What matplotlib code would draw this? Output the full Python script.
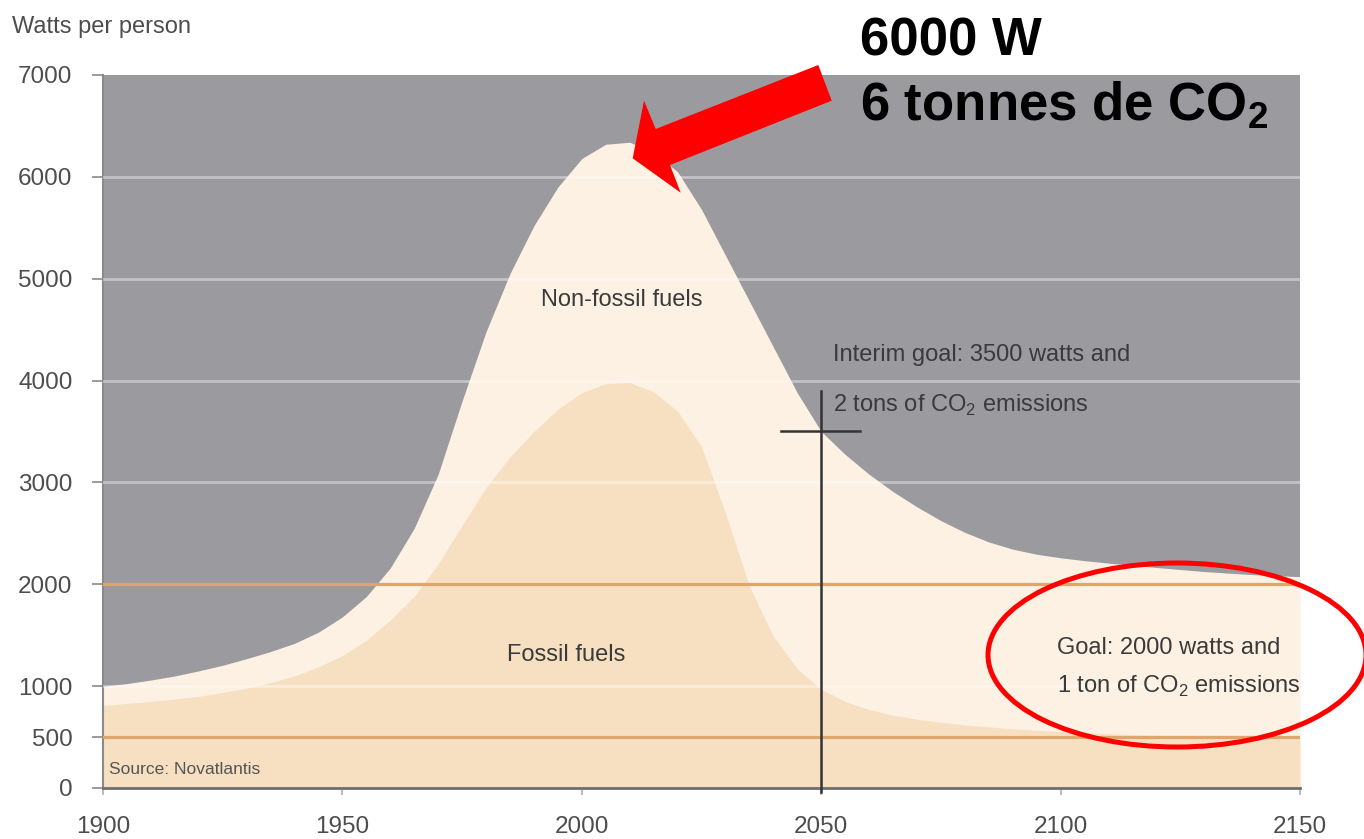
import matplotlib
matplotlib.use("Agg")
import matplotlib.pyplot as plt
from matplotlib.patches import Polygon, Ellipse

# ---- data (watts per person) ----
years = [1900, 1905, 1910, 1915, 1920, 1925, 1930, 1935, 1940, 1945, 1950, 1955,
         1960, 1965, 1970, 1975, 1980, 1985, 1990, 1995, 2000, 2005, 2010, 2015,
         2020, 2025, 2030, 2035, 2040, 2045, 2050, 2055, 2060, 2065, 2070, 2075,
         2080, 2085, 2090, 2095, 2100, 2105, 2110, 2120, 2130, 2140, 2150]
total_watts = [1000, 1025, 1060, 1100, 1150, 1205, 1270, 1340, 1420, 1530, 1680, 1880,
               2160, 2550, 3080, 3800, 4480, 5050, 5520, 5900, 6180, 6320, 6340, 6240,
               6050, 5680, 5230, 4780, 4330, 3880, 3500, 3275, 3080, 2910, 2760, 2625,
               2510, 2415, 2345, 2295, 2260, 2232, 2208, 2165, 2125, 2095, 2075]
fossil_watts = [810, 830, 850, 875, 900, 938, 980, 1035, 1100, 1190, 1300, 1450,
                1650, 1880, 2200, 2580, 2950, 3250, 3500, 3720, 3880, 3970, 3980, 3890,
                3700, 3350, 2700, 1980, 1490, 1170, 970, 850, 770, 715, 675, 645,
                620, 600, 582, 566, 553, 542, 532, 516, 505, 497, 490]

goal_lines = [2000, 500]
interim_year = 2050
interim_watts = 3500
y_ticks = [0, 500, 1000, 2000, 3000, 4000, 5000, 6000, 7000]
x_ticks = [1900, 1950, 2000, 2050, 2100, 2150]

# ---- colours ----
GREY = "#9b9a9f"
CREAM = "#fcf1e3"
BEIGE = "#f7e0c2"
ORANGE = "#dca66d"
TEXT = "#3a3a3a"

FONT = ["Liberation Sans", "DejaVu Sans"]
plt.rcParams["font.family"] = FONT
plt.rcParams["mathtext.fontset"] = "custom"
plt.rcParams["mathtext.rm"] = "Liberation Sans"
plt.rcParams["mathtext.bf"] = "Liberation Sans:bold"

W, H = 1364, 839
fig = plt.figure(figsize=(W / 100, H / 100), dpi=100)
fig.patch.set_facecolor("white")
ax = fig.add_axes([103 / W, 1 - 788 / H, (1300 - 103) / W, (788 - 75) / H])
ax.set_facecolor(GREY)
ax.set_xlim(1900, 2150)
ax.set_ylim(0, 7000)

# areas
ax.fill_between(years, 0, total_watts, color=CREAM, lw=0, zorder=1)
ax.fill_between(years, 0, fossil_watts, color=BEIGE, lw=0, zorder=2)

# grid lines
for v in range(1000, 7000, 1000):
    if v not in goal_lines:
        ax.axhline(v, color="white", alpha=0.4, lw=2, zorder=3)
for v in goal_lines:
    ax.axhline(v, color=ORANGE, lw=2.3, zorder=4)

# interim goal cross
ax.plot([interim_year, interim_year], [-40, 3900], color="#333333", lw=1.8,
        zorder=5, clip_on=False)
ax.plot([interim_year - 8.5, interim_year + 8], [interim_watts, interim_watts],
        color="#333333", lw=1.8, zorder=5)

# axes styling
for s in ["top", "right"]:
    ax.spines[s].set_visible(False)
ax.spines["left"].set_color("#8a8a8a")
ax.spines["left"].set_linewidth(1.5)
ax.spines["bottom"].set_color("#6e6e6e")
ax.spines["bottom"].set_linewidth(2)
ax.set_yticks(y_ticks)
ax.set_xticks(x_ticks)
ax.tick_params(axis="y", length=8, width=1.2, color="#8a8a8a", pad=14,
               labelsize=17.5, labelcolor="#4d4d4d")
ax.tick_params(axis="x", length=5, width=1.2, color="#b0b0b0", pad=15,
               labelsize=17.5, labelcolor="#4d4d4d")
ax.get_yticklines()[2 * y_ticks.index(2000)].set_color(ORANGE)

# labels in the chart
ax.text(2008.4, 4790, "Non-fossil fuels", ha="center", va="center",
        fontsize=17, color=TEXT, zorder=6)
ax.text(1996.7, 1305, "Fossil fuels", ha="center", va="center",
        fontsize=17, color=TEXT, zorder=6)
ax.text(2052.5, 4250, "Interim goal: 3500 watts and", ha="left", va="center",
        fontsize=17, color=TEXT, zorder=6)
ax.text(2052.5, 3760, r"2 tons of CO$_2$ emissions", ha="left", va="center",
        fontsize=17, color=TEXT, zorder=6)
ax.text(2099.3, 1374, "Goal: 2000 watts and", ha="left", va="center",
        fontsize=17, color=TEXT, zorder=6)
ax.text(2099.3, 1000, r"1 ton of CO$_2$ emissions", ha="left", va="center",
        fontsize=17, color=TEXT, zorder=6)
ax.text(1901.2, 177, "Source: Novatlantis", ha="left", va="center",
        fontsize=12.5, color="#555555", zorder=6)

fig.text(12 / W, 1 - 27 / H, "Watts per person", ha="left", va="center",
         fontsize=17, color="#4d4d4d")

# big annotation
fig.text(860 / W, 1 - 56 / H, "6000 W", ha="left", va="baseline",
         fontsize=38, fontweight="bold", color="black")
fig.text(860 / W, 1 - 120 / H, r"6 tonnes de CO$_\mathbf{2}$", ha="left", va="baseline",
         fontsize=38, fontweight="bold", color="black")

# red arrow (figure pixels, y down)
arrow_px = [(632.7, 158.3), (680.7, 192.7), (670, 165), (831.7, 100.7),
            (818.3, 65), (655.7, 129), (644, 100.7)]
arrow_in = [(x / 100, (H - y) / 100) for x, y in arrow_px]
fig.add_artist(Polygon(arrow_in, closed=True, facecolor="#ff0000", edgecolor="none",
                       transform=fig.dpi_scale_trans, zorder=10))

# red ellipse
fig.add_artist(Ellipse((1177 / 100, (H - 655) / 100), 3.78, 1.84, fill=False,
                       edgecolor="#ff0000", lw=3.6, transform=fig.dpi_scale_trans,
                       zorder=10))

fig.savefig("out.png", dpi=100)
